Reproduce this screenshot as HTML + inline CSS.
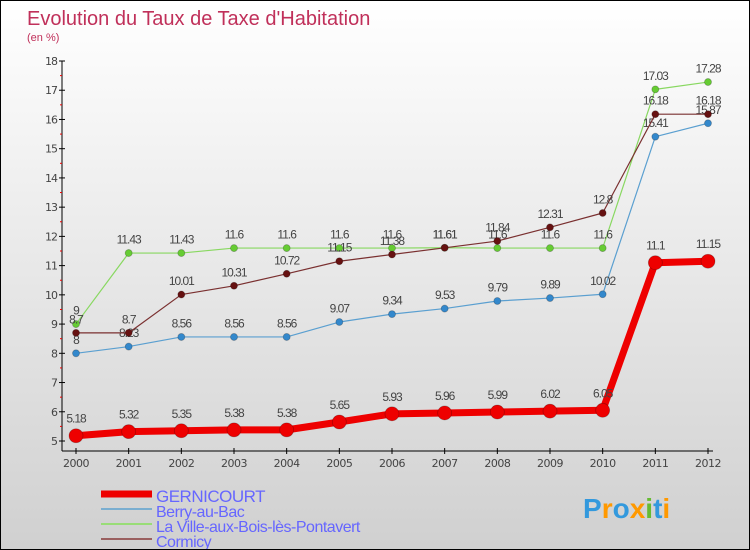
<!DOCTYPE html>
<html><head><meta charset="utf-8"><style>
body{margin:0}
#wrap{width:750px;height:550px;position:relative;box-sizing:border-box;border:1px solid #000;background:linear-gradient(#ffffff,#d0d0d0);overflow:hidden;font-family:"DejaVu Sans","Liberation Sans",sans-serif}
</style></head><body>
<div id="wrap">
<svg id="chart" width="750" height="550"></svg>
</div>
<script>
const years=[2000,2001,2002,2003,2004,2005,2006,2007,2008,2009,2010,2011,2012];
const gernicourt=[5.18,5.32,5.35,5.38,5.38,5.65,5.93,5.96,5.99,6.02,6.05,11.1,11.15];
const berry=[8,8.23,8.56,8.56,8.56,9.07,9.34,9.53,9.79,9.89,10.02,15.41,15.87];
const laville=[9,11.43,11.43,11.6,11.6,11.6,11.6,11.61,11.6,11.6,11.6,17.03,17.28];
const cormicy=[8.7,8.7,10.01,10.31,10.72,11.15,11.38,11.61,11.84,12.31,12.8,16.18,16.18];
const yTicks=[5,6,7,8,9,10,11,12,13,14,15,16,17,18];
const seriesNames=["GERNICOURT","Berry-au-Bac","La Ville-aux-Bois-lès-Pontavert","Cormicy"];

const NS="http://www.w3.org/2000/svg";
const svg=document.getElementById('chart');
const x=i=>75+i*(707-75)/(years.length-1);
const y=v=>440-(v-5)*(380/13);
function el(tag,attrs,parent){const e=document.createElementNS(NS,tag);for(const k in attrs)e.setAttribute(k,attrs[k]);(parent||svg).appendChild(e);return e;}
function txt(s,attrs,parent){const e=el('text',attrs,parent);e.textContent=s;return e;}

let t=txt("Evolution du Taux de Taxe d'Habitation",{x:26,y:24,'font-size':20,fill:'#c0305a','font-family':'Liberation Sans, sans-serif'});


t=txt("(en %)",{x:26,y:40,'font-size':11,fill:'#c0305a','font-family':'Liberation Sans, sans-serif'});



let a=el('line',{x1:61,y1:60,x2:61,y2:450,stroke:'#000','stroke-width':1});


a=el('line',{x1:61,y1:450,x2:712,y2:450,stroke:'#000','stroke-width':1});


yTicks.forEach(v=>{
  el('line',{x1:58,y1:y(v),x2:64,y2:y(v),stroke:'#000'});
  if(v<18)el('line',{x1:59,y1:y(v+0.5),x2:61,y2:y(v+0.5),stroke:'#e00'});
  const l=txt(String(v),{x:56,y:y(v)+4,'font-size':11,fill:'#444','text-anchor':'end','letter-spacing':'-1'});
  
  
});
years.forEach((yr,i)=>{
  el('line',{x1:x(i),y1:447,x2:x(i),y2:453,stroke:'#000'});
  const l=txt(String(yr),{x:x(i),y:466,'font-size':11,fill:'#444','text-anchor':'middle','letter-spacing':'-0.5'});
  
  
});

function series(data,color,dot,w,r,name){
  const g=el('g',{});
  
  
  el('polyline',{points:data.map((v,i)=>x(i)+','+y(v)).join(' '),fill:'none',stroke:color,'stroke-width':w,'stroke-linejoin':'round'},g);
  data.forEach((v,i)=>{
    const c=el('circle',{cx:x(i),cy:y(v),r:r,fill:dot,stroke:'rgba(0,0,0,0.25)','stroke-width':0.8},g);
    
    
    const l=txt(String(v),{x:x(i),y:y(v)-(r+6),'font-size':12,fill:'#444','text-anchor':'middle','letter-spacing':'-1','font-family':'Liberation Sans, sans-serif'},g);
    
    
  });
}
series(laville,'#88d860','#66cc33',1.2,3.5,'series-la-ville');
series(berry,'#5a9fd0','#3388cc',1.2,3.5,'series-berry-au-bac');
series(cormicy,'#7a3030','#661111',1.2,3.5,'series-cormicy');
series(gernicourt,'#ee0000','#ee0000',7,7,'series-gernicourt');

const leg=[['#ee0000',7],['#7aaed0',2],['#99dd77',2],['#9a6060',2]];
leg.forEach((d,i)=>{
  const yy=493+i*15;
  const g=el('g',{});
  
  
  el('line',{x1:100,y1:yy,x2:151,y2:yy,stroke:d[0],'stroke-width':d[1]},g);
  txt(seriesNames[i],{x:155,y:yy+8,'font-size':i==0?17:16,fill:'#6666ff','letter-spacing':'-0.5','font-family':'Liberation Sans, sans-serif'},g);
});

const lg=txt('',{x:582,y:517,'font-size':28,'font-weight':'bold','font-family':'Liberation Sans, sans-serif'});


[['P','#3399dd'],['r','#ff9900'],['o','#3399dd'],['x','#ff9900'],['i','#66bb33'],['t','#3399dd'],['i','#ff9900']].forEach(p=>{
  const s=document.createElementNS(NS,'tspan');s.setAttribute('fill',p[1]);s.textContent=p[0];lg.appendChild(s);
});
</script>
</body></html>
